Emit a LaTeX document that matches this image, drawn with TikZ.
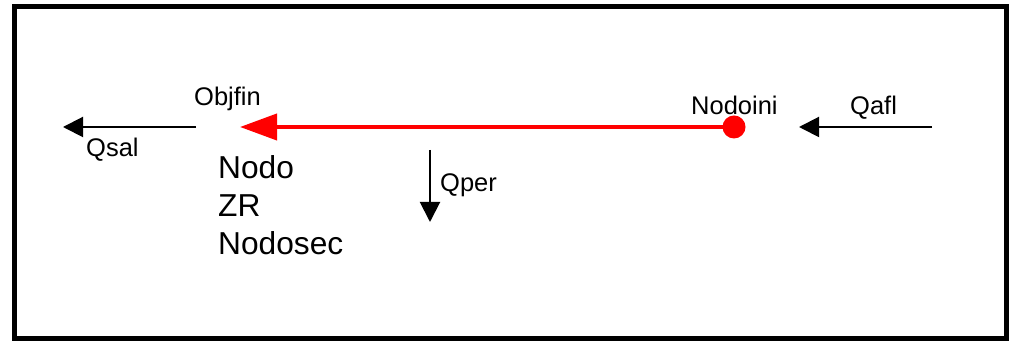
\documentclass[tikz,border=0pt]{standalone}
\usepackage{fontspec}
\setmainfont{Liberation Sans}
\usepackage{tikz}
\usetikzlibrary{arrows.meta, positioning}
\definecolor{flowred}{RGB}{255,0,0}

\begin{document}
\begin{tikzpicture}[
  x=1pt,y=1pt,
  lbl/.style={anchor=base west,inner sep=0pt,font=\fontsize{25.5}{30}\selectfont},
  biglbl/.style={anchor=base west,inner sep=0pt,font=\fontsize{31.7}{38}\selectfont},
  flow/.style={-{Triangle[length=20pt,width=20pt]},line width=2pt},
  mainflow/.style={-{Triangle[length=37pt,width=26pt]},line width=4pt,color=flowred}
]
\useasboundingbox (0,0) rectangle (1017,344);

% Frame
\draw[line width=5pt] (14.5,5) rectangle (1006,337.5);

% Start node and end point of the reach
\node[circle,fill=flowred,minimum size=23pt,inner sep=0pt] (ini) at (734,217) {};
\coordinate (fin) at (240,217);
\draw[mainflow] (ini.center) -- (fin);

% Inflow, outflow and losses
\coordinate (afl0) at (932,217);
\coordinate (afl1) at (799,217);
\draw[flow] (afl0) -- (afl1);
\coordinate (sal0) at (196,217);
\coordinate (sal1) at (63,217);
\draw[flow] (sal0) -- (sal1);
\coordinate (per0) at (430,194);
\coordinate (per1) at (430,122);
\draw[flow] (per0) -- (per1);

% Labels
\node[lbl] (objfin) at (194,238) {Objfin};
\node[lbl] (nodoini) at (691,229) {Nodoini};
\node[lbl] (qafl) at (850,229) {Qafl};
\node[lbl] (qsal) at (86,187) {Qsal};
\node[lbl] (qper) at (440,152) {Qper};

\foreach \name/\txt/\y in {nodo/Nodo/165, zr/ZR/127, nodosec/Nodosec/89} {
  \node[biglbl] (\name) at (218,\y) {\txt};
}

\end{tikzpicture}
\end{document}
